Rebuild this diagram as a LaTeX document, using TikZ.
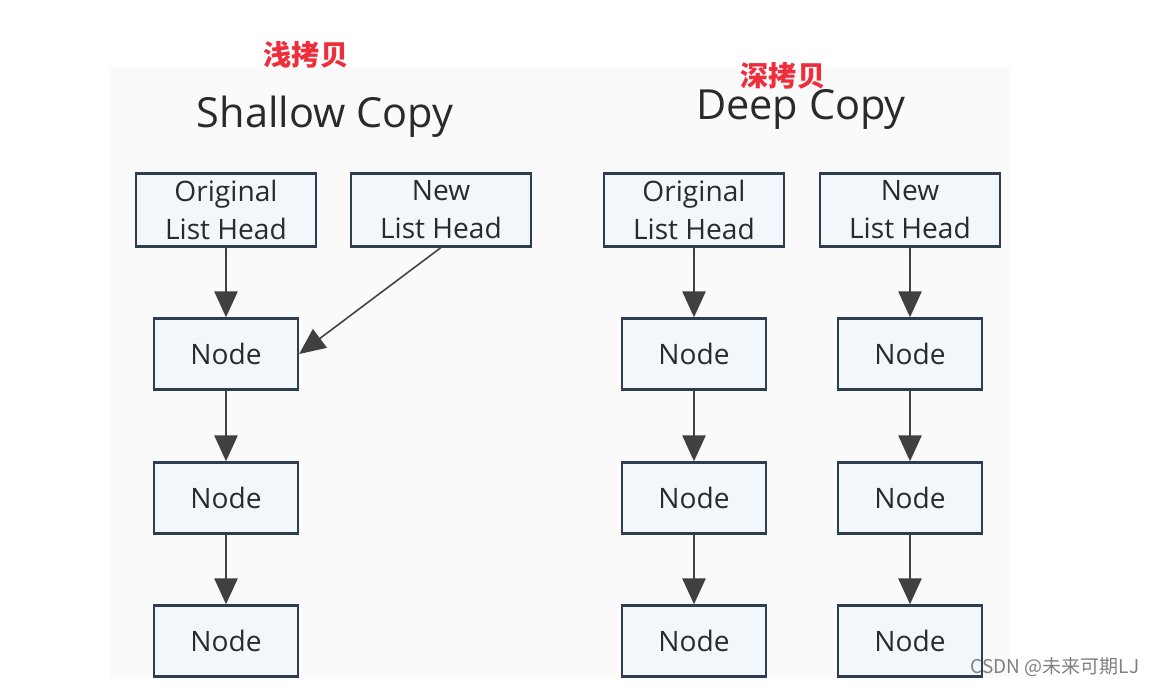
\documentclass[tikz,border=0pt]{standalone}
\usepackage{fontspec}
\setmainfont{Open Sans}
\newfontfamily\cjk{Noto Sans CJK SC}
\usetikzlibrary{arrows.meta}
\definecolor{boxline}{HTML}{2E3E50}
\definecolor{boxfill}{HTML}{F2F7FC}
\definecolor{arrowgray}{HTML}{404040}
\definecolor{titlered}{HTML}{EE2E3A}
\definecolor{textgray}{HTML}{2A2A2A}

\begin{document}
\begin{tikzpicture}[x=0.025cm, y=-0.025cm,
    headbox/.style={draw=boxline, line width=1.6pt, fill=boxfill, text=textgray,
        minimum width=4.5cm, minimum height=1.82cm, inner sep=0pt, align=center,
        font=\fontsize{20}{27}\selectfont},
    listnode/.style={headbox, minimum width=3.6cm, minimum height=1.78cm},
    link/.style={-{Triangle[length=6.5mm,width=5.8mm]}, draw=arrowgray, fill=arrowgray, line width=1.6pt},
    heading/.style={text=textgray, anchor=base, font=\fontsize{29.5}{32}\selectfont},
    zhheading/.style={text=titlered, font=\cjk\bfseries\fontsize{20}{22}\selectfont}
]
    \useasboundingbox (0,0) rectangle (1153,687);
    % faint photo background
    \fill[black!2] (110,68) rectangle (1010,677);

    % titles
    \node[zhheading] (shallowzh) at (306,55) {浅拷贝};
    \node[heading] (shallowtitle) at (325,127) {Shallow Copy};
    \node[zhheading] (deepzh) at (783,76) {深拷贝};
    \node[heading] (deeptitle) at (801,119) {Deep Copy};

    % shallow copy
    \node[headbox] (sorig) at (226,210) {Original\\List Head};
    \node[headbox] (snew) at (441,210) {New\\List Head};
    \node[listnode] (sa) at (226,354) {Node};
    \node[listnode] (sb) at (226,498) {Node};
    \node[listnode] (sc) at (226,641) {Node};

    \draw[link] (sorig) -- (sa);
    \draw[link] (sa) -- (sb);
    \draw[link] (sb) -- (sc);
    \draw[link, line width=1.1pt] (snew.south) -- (sa.east);

    % deep copy
    \node[headbox] (dorig) at (694,210) {Original\\List Head};
    \node[headbox] (dnew) at (910,210) {New\\List Head};
    \node[listnode] (da) at (694,354) {Node};
    \node[listnode] (db) at (694,498) {Node};
    \node[listnode] (dc) at (694,641) {Node};
    \node[listnode] (ea) at (910,354) {Node};
    \node[listnode] (eb) at (910,498) {Node};
    \node[listnode] (ec) at (910,641) {Node};

    \draw[link] (dorig) -- (da);
    \draw[link] (da) -- (db);
    \draw[link] (db) -- (dc);
    \draw[link] (dnew) -- (ea);
    \draw[link] (ea) -- (eb);
    \draw[link] (eb) -- (ec);

    % watermark
    \node[text=black!50, font=\cjk\fontsize{13.5}{14}\selectfont] (mark) at (1055,667) {CSDN @未来可期LJ};
\end{tikzpicture}
\end{document}
